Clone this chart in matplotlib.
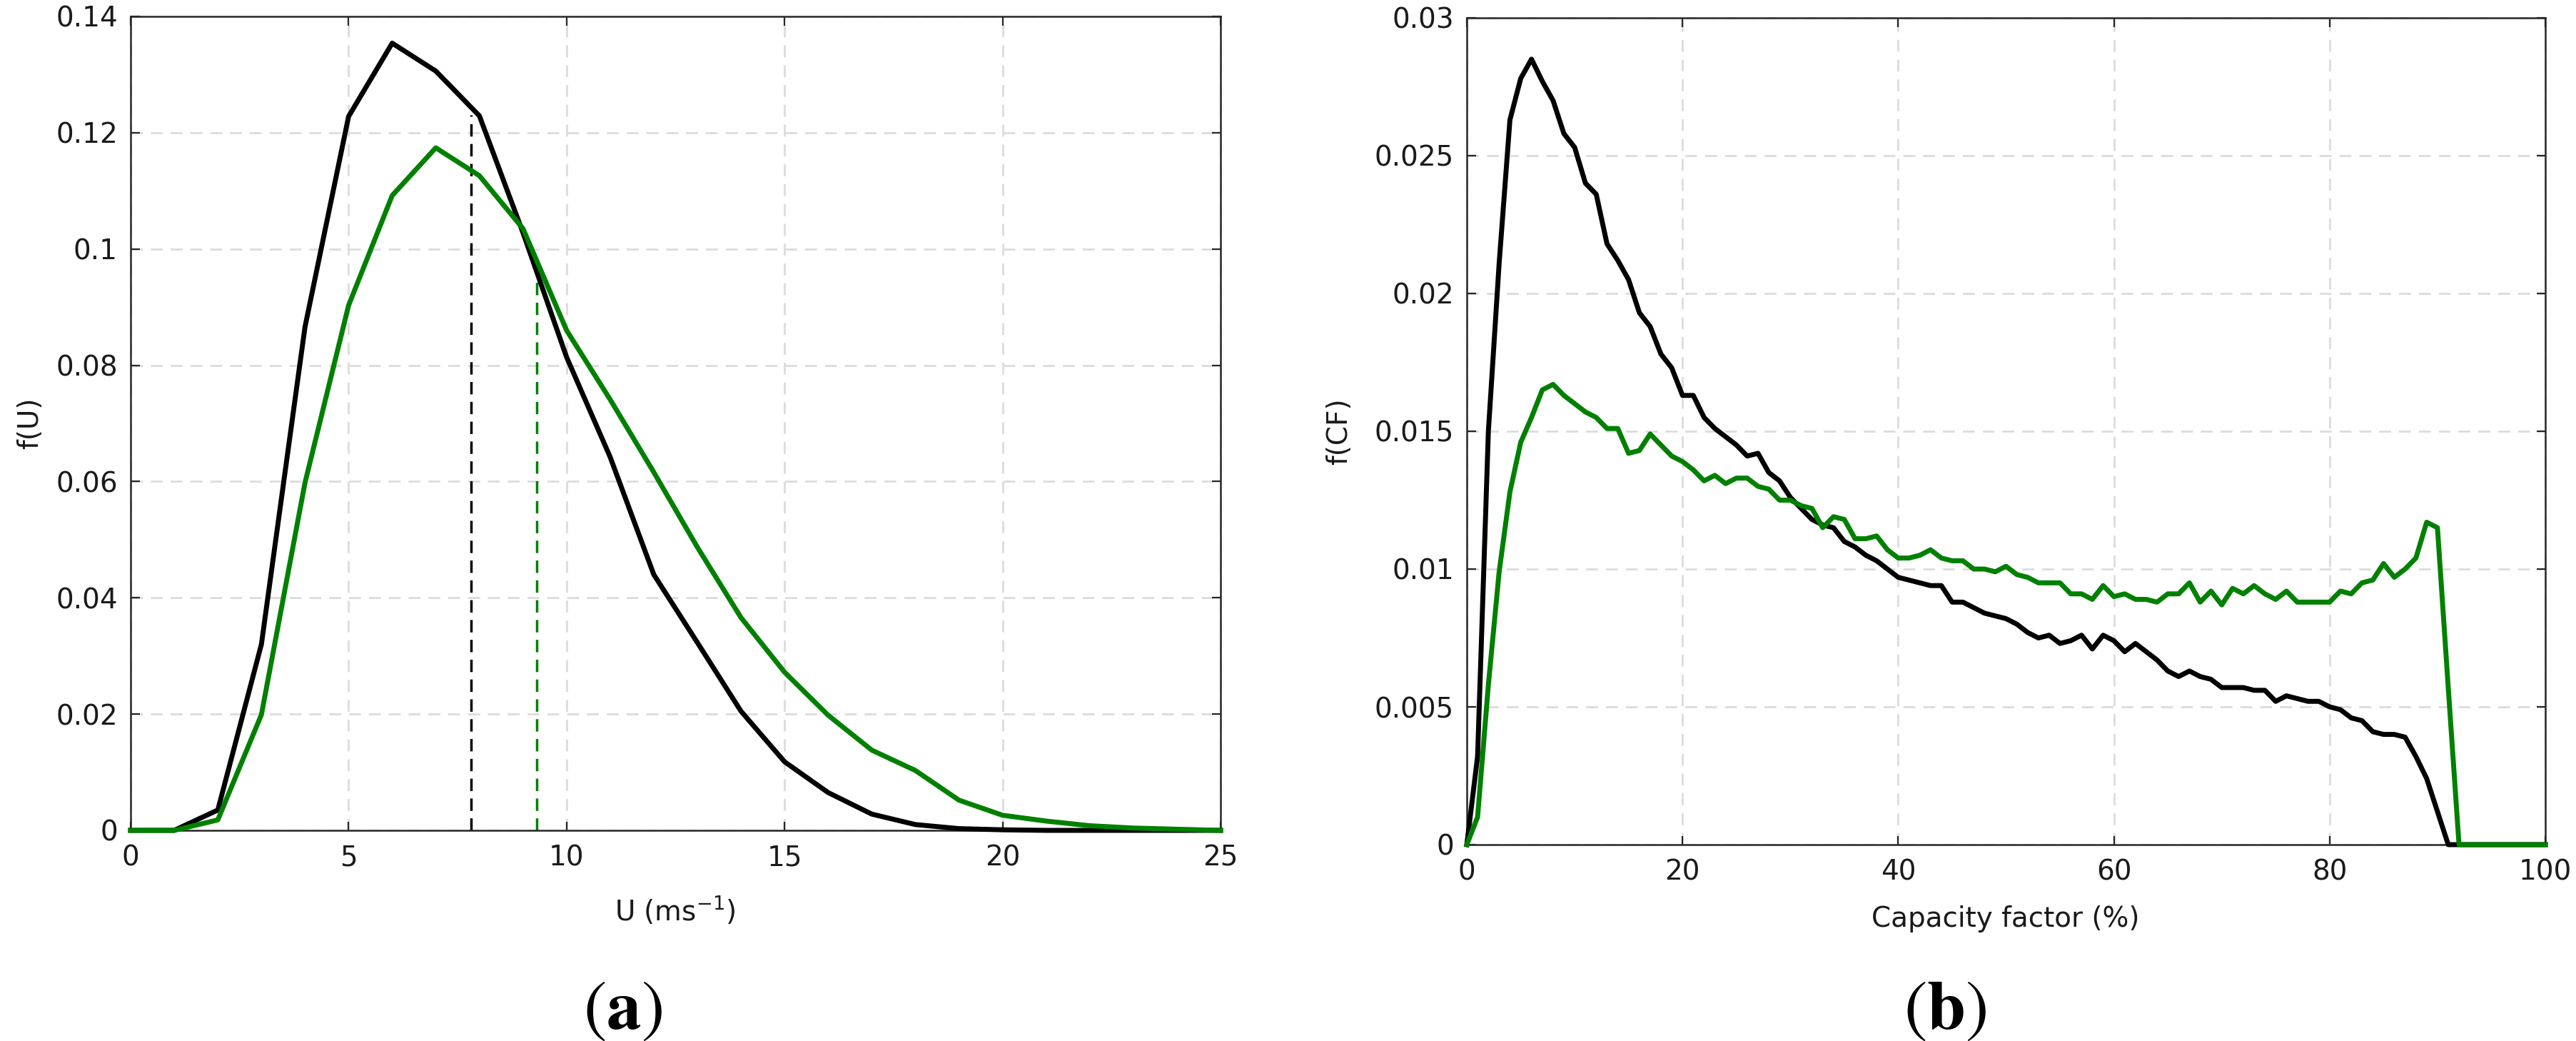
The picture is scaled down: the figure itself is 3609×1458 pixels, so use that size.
import matplotlib
matplotlib.use("Agg")
import matplotlib.pyplot as plt
import numpy as np

# ---------------- data ----------------
wind_speed = list(range(0, 26))
fU_black = [0, 0, 0.0035, 0.032, 0.0866, 0.1228, 0.1354, 0.1306, 0.1229, 0.1028,
            0.0814, 0.0642, 0.0440, 0.0323, 0.0205, 0.0118, 0.0065, 0.0028, 0.0010,
            0.0003, 0.0001, 0, 0, 0, 0, 0]
fU_green = [0, 0, 0.0018, 0.0199, 0.0598, 0.0903, 0.1092, 0.1174, 0.1126, 0.1035,
            0.0860, 0.0741, 0.0616, 0.0487, 0.0366, 0.0272, 0.0198, 0.0138, 0.0103,
            0.0052, 0.0026, 0.0016, 0.0008, 0.0004, 0.0002, 0]
mean_U = [7.81, 9.31]
mean_U_top = [0.123, 0.0945]

capacity_factor = list(range(0, 101))
fCF_black = [0, 0.0032, 0.0150, 0.0211, 0.0263, 0.0278, 0.0285, 0.0277, 0.0270, 0.0258,
             0.0253, 0.0240, 0.0236, 0.0218, 0.0212, 0.0205, 0.0193, 0.0188, 0.0178, 0.0173,
             0.0163, 0.0163, 0.0155, 0.0151, 0.0148, 0.0145, 0.0141, 0.0142, 0.0135, 0.0132,
             0.0126, 0.0122, 0.0118, 0.0116, 0.0115, 0.0110, 0.0108, 0.0105, 0.0103, 0.0100,
             0.0097, 0.0096, 0.0095, 0.0094, 0.0094, 0.0088, 0.0088, 0.0086, 0.0084, 0.0083,
             0.0082, 0.0080, 0.0077, 0.0075, 0.0076, 0.0073, 0.0074, 0.0076, 0.0071, 0.0076,
             0.0074, 0.0070, 0.0073, 0.0070, 0.0067, 0.0063, 0.0061, 0.0063, 0.0061, 0.0060,
             0.0057, 0.0057, 0.0057, 0.0056, 0.0056, 0.0052, 0.0054, 0.0053, 0.0052, 0.0052,
             0.0050, 0.0049, 0.0046, 0.0045, 0.0041, 0.0040, 0.0040, 0.0039, 0.0032, 0.0024,
             0.0012, 0, 0, 0, 0, 0, 0, 0, 0, 0, 0]
fCF_green = [0, 0.0010, 0.0058, 0.0099, 0.0128, 0.0146, 0.0155, 0.0165, 0.0167, 0.0163,
             0.0160, 0.0157, 0.0155, 0.0151, 0.0151, 0.0142, 0.0143, 0.0149, 0.0145, 0.0141,
             0.0139, 0.0136, 0.0132, 0.0134, 0.0131, 0.0133, 0.0133, 0.0130, 0.0129, 0.0125,
             0.0125, 0.0123, 0.0122, 0.0115, 0.0119, 0.0118, 0.0111, 0.0111, 0.0112, 0.0107,
             0.0104, 0.0104, 0.0105, 0.0107, 0.0104, 0.0103, 0.0103, 0.0100, 0.0100, 0.0099,
             0.0101, 0.0098, 0.0097, 0.0095, 0.0095, 0.0095, 0.0091, 0.0091, 0.0089, 0.0094,
             0.0090, 0.0091, 0.0089, 0.0089, 0.0088, 0.0091, 0.0091, 0.0095, 0.0088, 0.0092,
             0.0087, 0.0093, 0.0091, 0.0094, 0.0091, 0.0089, 0.0092, 0.0088, 0.0088, 0.0088,
             0.0088, 0.0092, 0.0091, 0.0095, 0.0096, 0.0102, 0.0097, 0.0100, 0.0104, 0.0117,
             0.0115, 0.0057, 0, 0, 0, 0, 0, 0, 0, 0, 0]

xticks_U = [0, 5, 10, 15, 20, 25]
yticks_U = [0, 0.02, 0.04, 0.06, 0.08, 0.1, 0.12, 0.14]
yticklabels_U = ["0", "0.02", "0.04", "0.06", "0.08", "0.1", "0.12", "0.14"]
xticks_CF = [0, 20, 40, 60, 80, 100]
yticks_CF = [0, 0.005, 0.01, 0.015, 0.02, 0.025, 0.03]
yticklabels_CF = ["0", "0.005", "0.01", "0.015", "0.02", "0.025", "0.03"]

# ---------------- style ----------------
GREEN = "#008000"
SPINE = "#262626"
GRID = "#dcdcdc"
TXT = "#1a1a1a"
FS = 28
plt.rcParams["font.family"] = ["DejaVu Sans"]
plt.rcParams["mathtext.fontset"] = "dejavusans"

W, H = 3609, 1458
fig = plt.figure(figsize=(W / 100, H / 100), dpi=100)

def px_axes(x0, x1, ytop, ybot):
    return fig.add_axes([x0 / W, (H - ybot) / H, (x1 - x0) / W, (ybot - ytop) / H])

ax1 = px_axes(183, 1710, 23, 1163)
ax2 = px_axes(2055, 3566, 25, 1183)

def style(ax):
    ax.set_axisbelow(True)
    ax.grid(True, color=GRID, linestyle=(0, (6, 4)), linewidth=2)
    for s in ax.spines.values():
        s.set_color(SPINE)
        s.set_linewidth(1.8)
    ax.tick_params(axis="both", which="major", direction="in", length=9, width=1.6,
                   color=SPINE, labelsize=FS, labelcolor=TXT,
                   top=True, right=True)
    ax.tick_params(axis="x", pad=14)
    ax.tick_params(axis="y", pad=13)

# ---- panel (a) ----
style(ax1)
ax1.plot(wind_speed, fU_black, color="black", lw=5, clip_on=False, zorder=3)
ax1.plot(wind_speed, fU_green, color=GREEN, lw=5, clip_on=False, zorder=4)
ax1.vlines(mean_U[0], 0, mean_U_top[0], colors="black", linestyles=(0, (5, 3)), lw=2.5, zorder=2)
ax1.vlines(mean_U[1], 0, mean_U_top[1], colors=GREEN, linestyles=(0, (5, 3)), lw=2.5, zorder=2)
ax1.set_xlim(0, 25)
ax1.set_ylim(0, 0.14)
ax1.set_xticks(xticks_U)
ax1.set_yticks(yticks_U)
ax1.set_yticklabels(yticklabels_U)

# ---- panel (b) ----
style(ax2)
ax2.plot(capacity_factor, fCF_black, color="black", lw=5, clip_on=False, zorder=3)
ax2.plot(capacity_factor, fCF_green, color=GREEN, lw=5, clip_on=False, zorder=4)
ax2.set_xlim(0, 100)
ax2.set_ylim(0, 0.03)
ax2.set_xticks(xticks_CF)
ax2.set_yticks(yticks_CF)
ax2.set_yticklabels(yticklabels_CF)

# ---- labels (pixel placed) ----
def ftext(x, y, s, **kw):
    fig.text(x / W, 1 - y / H, s, ha="center", va="center", **kw)

ftext(946, 1275, r"U (ms$^{-1}$)", fontsize=FS, color=TXT)
ftext(2810, 1287, "Capacity factor (%)", fontsize=FS, color=TXT)
ftext(42, 593, "f(U)", fontsize=FS, color=TXT, rotation=90)
ftext(1876, 604, "f(CF)", fontsize=FS, color=TXT, rotation=90)

ftext(872, 1414, r"$(\mathbf{a})$", fontsize=70, math_fontfamily="stix", color="black")
ftext(2725, 1414, r"$(\mathbf{b})$", fontsize=70, math_fontfamily="stix", color="black")

fig.savefig("out.png", dpi=100)
